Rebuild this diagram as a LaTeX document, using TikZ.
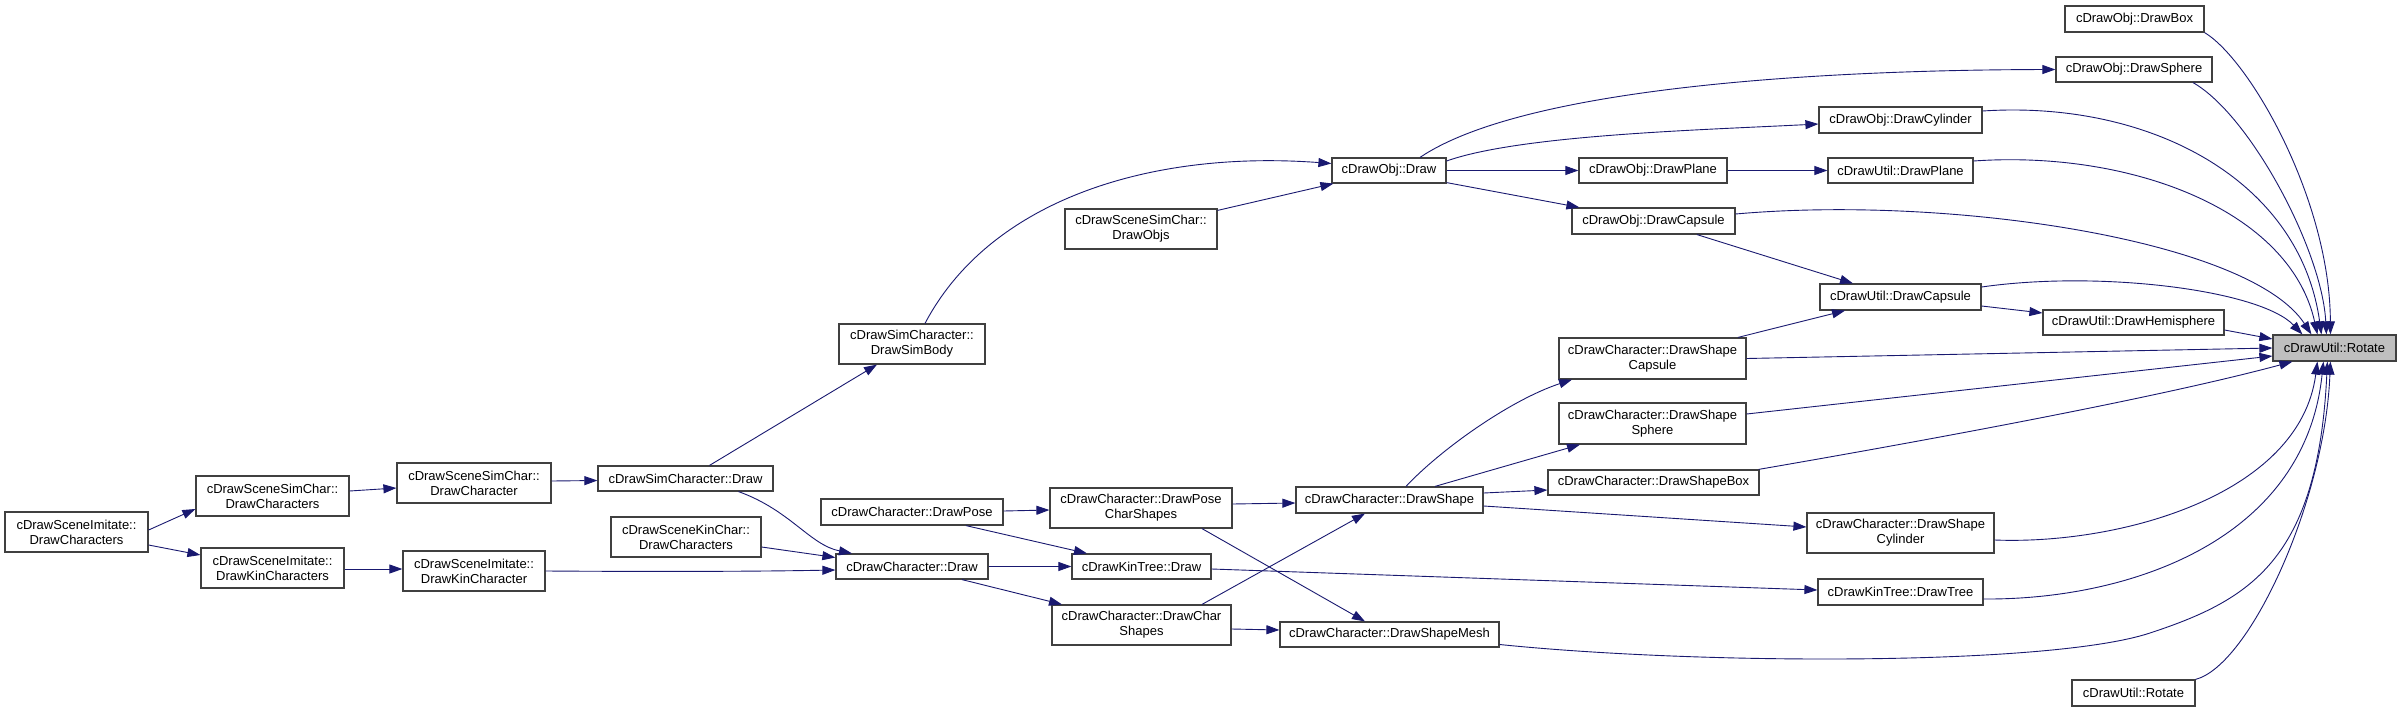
\documentclass[tikz,border=0pt]{standalone}
\usepackage{fontspec}
\setmainfont{Liberation Sans}
\usetikzlibrary{arrows.meta,calc}
\definecolor{mblue}{RGB}{25,25,112}
\definecolor{bord}{RGB}{64,64,64}
\definecolor{hl}{RGB}{191,191,191}
\tikzset{
  nbox/.style={draw=bord,line width=1.2pt,fill=white,inner sep=0pt,align=center,
    font=\fontsize{13}{15}\selectfont},
  ed/.style={draw=mblue,line width=0.9pt,-{Triangle[length=13pt,width=9pt]}},
  ln/.style={draw=mblue,line width=0.9pt}
}
\newcommand\bx[7][]{\node[nbox,#1,minimum width={(#4-#2)*1pt},minimum height={(#5-#3)*1pt}] (#6) at ({(#2+#4)/2},{(#3+#5)/2}) {#7};}
\begin{document}
\begin{tikzpicture}[x=1pt,y=-1pt]
\useasboundingbox[fill=white] (0,0) rectangle (2401,712);
% nodes
\bx{5}{512}{148}{552}{sidc}{cDrawSceneImitate::\\DrawCharacters}
\bx{196}{476}{349}{516}{sscs}{cDrawSceneSimChar::\\DrawCharacters}
\bx{201}{548}{344}{588}{sidkcs}{cDrawSceneImitate::\\DrawKinCharacters}
\bx{397}{463}{551}{503}{sscc}{cDrawSceneSimChar::\\DrawCharacter}
\bx{403}{551}{545}{591}{sidkc}{cDrawSceneImitate::\\DrawKinCharacter}
\bx{598}{466}{773}{491}{simd}{cDrawSimCharacter::Draw}
\bx{839}{324}{985}{364}{simbody}{cDrawSimCharacter::\\DrawSimBody}
\bx{611}{517}{761}{557}{skcdc}{cDrawSceneKinChar::\\DrawCharacters}
\bx{836}{554}{988}{579}{chdraw}{cDrawCharacter::Draw}
\bx{821}{499}{1003}{525}{dpose}{cDrawCharacter::DrawPose}
\bx{1065}{209}{1217}{249}{ssobjs}{cDrawSceneSimChar::\\DrawObjs}
\bx{1050}{488}{1232}{528}{dpcs}{cDrawCharacter::DrawPose\\CharShapes}
\bx{1072}{554}{1211}{579}{ktdraw}{cDrawKinTree::Draw}
\bx{1052}{605}{1231}{645}{dcs}{cDrawCharacter::DrawChar\\Shapes}
\bx{1332}{158}{1446}{183}{objdraw}{cDrawObj::Draw}
\bx{1296}{487}{1483}{513}{dshape}{cDrawCharacter::DrawShape}
\bx{1280}{622}{1499}{647}{dsmesh}{cDrawCharacter::DrawShapeMesh}
\bx{1579}{158}{1727}{183}{objplane}{cDrawObj::DrawPlane}
\bx{1572}{208}{1735}{234}{objcapsule}{cDrawObj::DrawCapsule}
\bx{1559}{338}{1746}{379}{dscapsule}{cDrawCharacter::DrawShape\\Capsule}
\bx{1559}{403}{1746}{444}{dssphere}{cDrawCharacter::DrawShape\\Sphere}
\bx{1548}{470}{1759}{495}{dsbox}{cDrawCharacter::DrawShapeBox}
\bx{1819}{107}{1982}{133}{objcyl}{cDrawObj::DrawCylinder}
\bx{1828}{158}{1973}{183}{utilplane}{cDrawUtil::DrawPlane}
\bx{1820}{284}{1981}{310}{utilcapsule}{cDrawUtil::DrawCapsule}
\bx{1807}{513}{1994}{553}{dscyl}{cDrawCharacter::DrawShape\\Cylinder}
\bx{1818}{579}{1983}{605}{kttree}{cDrawKinTree::DrawTree}
\bx{2065}{6}{2204}{32}{objbox}{cDrawObj::DrawBox}
\bx{2056}{57}{2212}{82}{objsphere}{cDrawObj::DrawSphere}
\bx{2043}{310}{2224}{335}{hemi}{cDrawUtil::DrawHemisphere}
\bx{2072}{680}{2195}{706}{rottwo}{cDrawUtil::Rotate}
\bx[fill=hl]{2273}{335}{2396}{361}{rot}{cDrawUtil::Rotate}
% edges
\draw[ed] ($(sidc.east)+(0,-2)$) -- ($(sscs.west)+(0,13)$);
\draw[ed] ($(sidc.east)+(0,13)$) -- ($(sidkcs.west)+(0,-13)$);
\draw[ed] ($(sscs.east)+(0,-5)$) -- ($(sscc.west)+(0,5)$);
\draw[ed] ($(sidkcs.east)+(0,1)$) -- ($(sidkc.west)+(0,-2)$);
\draw[ed] ($(sscc.east)+(0,-2)$) -- ($(simd.west)+(0,2)$);
\draw[ed] (sidkc.east) .. controls (700,572) and (780,571) .. ($(chdraw.west)+(0,3.5)$);
\draw[ed] ($(simd.north)+(24,0)$) -- ($(simbody.south)+(-35,0)$);
\draw[ed] ($(simd.south)+(53,0)$) .. controls (790,510) and (810,545) .. ($(chdraw.north)+(-60,0)$);
\draw[ed] ($(skcdc.east)+(0,10)$) -- ($(chdraw.west)+(0,-9)$);
\draw[ed] ($(simbody.north)+(13,0)$) .. controls (990,200) and (1150,150) .. ($(objdraw.west)+(0,-7)$);
\draw[ed] ($(ssobjs.north east)+(0,2)$) -- ($(objdraw.south west)+(2,0)$);
\draw[ed] ($(objdraw.north)+(31,0)$) .. controls (1520,90) and (1800,70) .. (objsphere.west);
\draw[ed] ($(objdraw.east)+(0,-9.5)$) .. controls (1520,135) and (1700,130) .. ($(objcyl.west)+(0,4)$);
\draw[ed] (objdraw.east) -- (objplane.west);
\draw[ed] ($(objdraw.south east)+(0,-1)$) -- ($(objcapsule.north west)+(8,0)$);
\draw[ed] (objplane.east) -- (utilplane.west);
\draw[ed] ($(objcapsule.south)+(43.5,0)$) -- ($(utilcapsule.north)+(-47.5,0)$);
\draw[ed] ($(utilcapsule.east)+(0,9)$) -- ($(hemi.west)+(0,-9.5)$);
\draw[ed] ($(dscapsule.north)+(85.5,0)$) -- ($(utilcapsule.south)+(-55.5,0)$);
\draw[ed] ($(dpose.east)+(0,-1)$) -- ($(dpcs.west)+(0,2)$);
\draw[ed] ($(dpose.south)+(54,0)$) -- ($(ktdraw.north)+(-54.5,0)$);
\draw[ed] (chdraw.east) -- (ktdraw.west);
\draw[ed] ($(chdraw.south)+(50,0)$) -- ($(dcs.north)+(-79.5,0)$);
\draw[ed] ($(dpcs.east)+(0,-4)$) -- ($(dshape.west)+(0,3)$);
\draw[ed] ($(dpcs.south)+(61,0)$) -- ($(dsmesh.north)+(-24.5,0)$);
\draw[ed] ($(dcs.north)+(60.5,0)$) -- ($(dshape.south)+(-24.5,0)$);
\draw[ed] ($(dcs.east)+(0,4)$) -- ($(dsmesh.west)+(0,-4.5)$);
\draw[ed] ($(ktdraw.east)+(0,2.5)$) -- ($(kttree.west)+(0,-2)$);
\draw[ed] ($(dshape.north)+(16.5,0)$) .. controls (1440,450) and (1510,400) .. ($(dscapsule.south)+(-80.5,0)$);
\draw[ed] ($(dshape.north)+(45.5,0)$) -- ($(dssphere.south)+(-72.5,0)$);
\draw[ed] ($(dshape.east)+(0,-7)$) -- ($(dsbox.west)+(0,7.5)$);
\draw[ed] ($(dshape.east)+(0,6)$) -- ($(dscyl.west)+(0,-6)$);
% edges into Rotate
\draw[ed] (objbox.south east) .. controls (2250,60) and (2330,200) .. ($(rot.north west)+(58,0)$);
\draw[ed] ($(objsphere.south)+(59,0)$) .. controls (2250,115) and (2322,250) .. ($(rot.north west)+(54,0)$);
\draw[ed] ($(objcyl.east)+(0,-9)$) .. controls (2150,100) and (2300,180) .. ($(rot.north west)+(49,0)$);
\draw[ed] ($(utilplane.east)+(0,-9.5)$) .. controls (2130,150) and (2290,210) .. ($(rot.north west)+(45,0)$);
\draw[ed] ($(objcapsule.east)+(0,-7)$) .. controls (1950,195) and (2250,240) .. ($(rot.north west)+(39,0)$);
\draw[ed] ($(utilcapsule.east)+(0,-10)$) .. controls (2100,270) and (2260,290) .. ($(rot.north west)+(30,0)$);
\draw[ed] ($(hemi.east)+(0,7.5)$) -- ($(rot.west)+(0,-9)$);
\draw[ed] (dscapsule.east) -- (rot.west);
\draw[ed] ($(dssphere.east)+(0,-9.5)$) -- ($(rot.west)+(0,8)$);
\draw[ed] ($(dsbox.north east)+(-1,0)$) .. controls (1900,445) and (2150,400) .. ($(rot.south west)+(20,0)$);
\draw[ed] ($(dscyl.east)+(0,7)$) .. controls (2120,545) and (2300,495) .. ($(rot.south west)+(45,0)$);
\draw[ed] ($(kttree.east)+(0,7)$) .. controls (2130,600) and (2305,540) .. ($(rot.south west)+(51,0)$);
\draw[ed] ($(dsmesh.east)+(0,10)$) .. controls (1700,665) and (2050,666) .. (2150,633) .. controls (2250,600) and (2318,560) .. ($(rot.south west)+(55,0)$);
\draw[ed] (rottwo.north east) .. controls (2250,665) and (2325,500) .. ($(rot.south west)+(58,0)$);
\end{tikzpicture}
\end{document}
